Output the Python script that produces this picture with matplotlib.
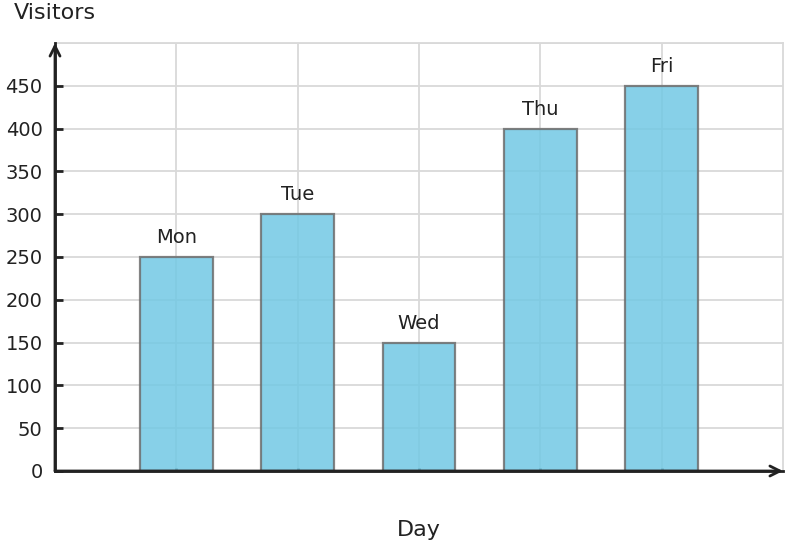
import numpy as np
import matplotlib
matplotlib.use('Agg')
import matplotlib.pyplot as plt

days = ['Mon', 'Tue', 'Wed', 'Thu', 'Fri']
visitors = [250, 300, 150, 400, 450]
y_ticks = [0, 50, 100, 150, 200, 250, 300, 350, 400, 450]

dark = '#222222'
grid_col = '#d9d9d9'

fig = plt.figure(figsize=(7.87, 5.48), dpi=100)
ax = fig.add_axes([55/787, 1 - 471/548, (783 - 55)/787, (471 - 43)/548])
ax.set_axisbelow(True)

x = np.arange(len(days))
ax.bar(x, visitors, width=0.6, color='#72c8e4', alpha=0.85,
       edgecolor='#6e6e6e', linewidth=1.6, zorder=1)

for xi, v, d in zip(x, visitors, days):
    ax.annotate(d, xy=(xi, v), xytext=(0, 7), textcoords='offset points',
                ha='center', va='bottom', fontsize=14, color=dark)

ax.set_xlim(-1, 5)
ax.set_ylim(0, 500)
ax.set_xticks(x)
ax.set_xticklabels([])
ax.set_yticks(y_ticks)
ax.grid(True, color=grid_col, linewidth=1.3)
ax.axhline(500, color=grid_col, linewidth=1.3, zorder=0.5)

ax.tick_params(axis='y', direction='in', length=6, width=2, color=dark,
               labelsize=14, labelcolor=dark, pad=9)
ax.tick_params(axis='x', direction='in', length=2.5, width=2, color=dark)

for s in ['top', 'right']:
    ax.spines[s].set_color(grid_col)
    ax.spines[s].set_linewidth(1.3)
for s in ['left', 'bottom']:
    ax.spines[s].set_color(dark)
    ax.spines[s].set_linewidth(2)
    ax.spines[s].set_zorder(3)

# arrow heads on the two axes
arw = dict(arrowstyle='->', lw=2, color=dark, mutation_scale=18, shrinkA=0, shrinkB=0)
ax.annotate('', xy=(0, 1.0), xytext=(0, 0), xycoords='axes fraction',
            arrowprops=arw, annotation_clip=False)
ax.annotate('', xy=(1.0, 0), xytext=(0, 0), xycoords='axes fraction',
            arrowprops=arw, annotation_clip=False)

ax.set_xlabel('Day', fontsize=16, color=dark, va='center')
ax.xaxis.set_label_coords(0.5, -0.138)
ax.set_ylabel('Visitors', fontsize=16, color=dark, rotation=0, va='center', ha='center')
ax.yaxis.set_label_coords(0.0, 1.07)

fig.savefig('out.png', dpi=100)
